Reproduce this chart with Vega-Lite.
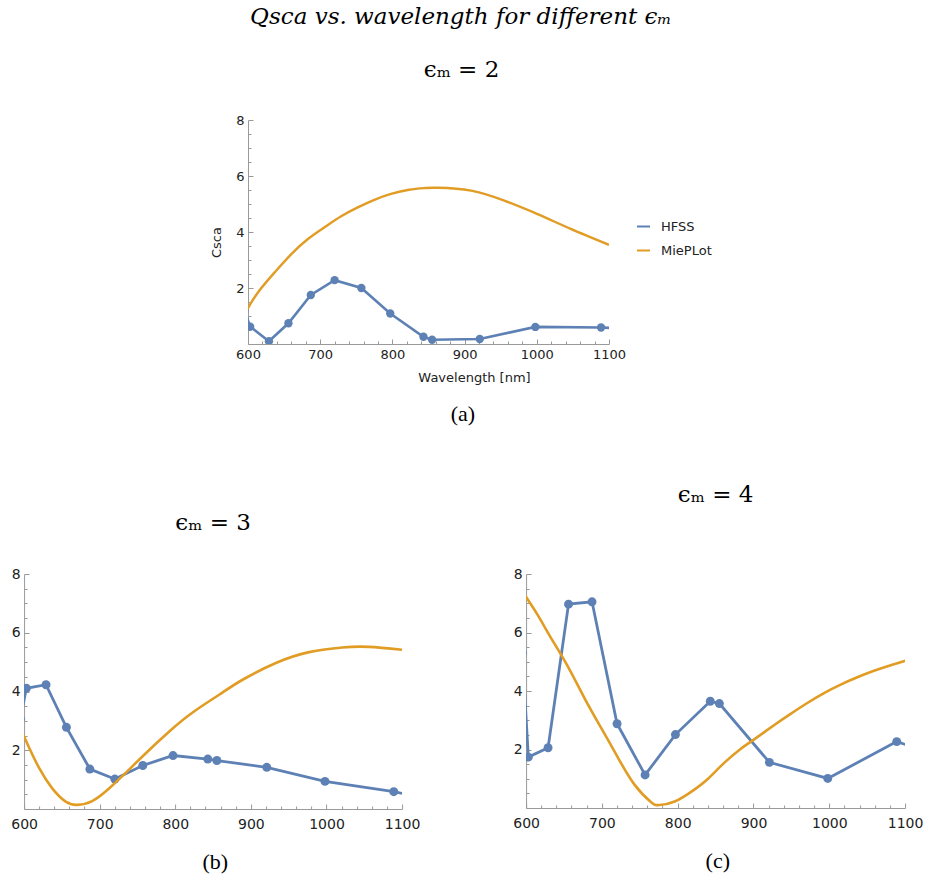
{
  "$schema": "https://vega.github.io/schema/vega-lite/v6.json",
  "padding": {"left": 10, "top": 6, "right": 2, "bottom": 3},
  "background": "white",
  "title": {"text": "Qsca vs. wavelength for different ϵₘ", "font": "DejaVu Serif", "fontStyle": "italic", "fontWeight": "normal", "fontSize": 23, "color": "black", "anchor": "middle", "offset": 30, "dx": -6},
  "config": {
    "view": {"stroke": null},
    "axis": {"grid": false, "domainColor": "#9a9a9a", "tickColor": "#9a9a9a", "labelColor": "#222222", "titleColor": "#222222", "labelFont": "DejaVu Sans", "titleFont": "DejaVu Sans", "titleFontWeight": "normal", "labelFlush": false, "labelOverlap": false, "format": "d"},
    "title": {"font": "DejaVu Serif", "fontWeight": "normal", "color": "black"},
    "legend": {"labelFont": "DejaVu Sans"}
  },
  "datasets": {
    "hfss2": [
      {"series": "HFSS", "wavelength": 595, "value": 1.21},
      {"series": "HFSS", "wavelength": 603, "value": 0.62},
      {"series": "HFSS", "wavelength": 629, "value": 0.10},
      {"series": "HFSS", "wavelength": 656, "value": 0.74},
      {"series": "HFSS", "wavelength": 687, "value": 1.75},
      {"series": "HFSS", "wavelength": 720, "value": 2.28},
      {"series": "HFSS", "wavelength": 757, "value": 2.00},
      {"series": "HFSS", "wavelength": 797, "value": 1.09},
      {"series": "HFSS", "wavelength": 843, "value": 0.26},
      {"series": "HFSS", "wavelength": 855, "value": 0.15},
      {"series": "HFSS", "wavelength": 921, "value": 0.18},
      {"series": "HFSS", "wavelength": 998, "value": 0.61},
      {"series": "HFSS", "wavelength": 1089, "value": 0.59},
      {"series": "HFSS", "wavelength": 1120, "value": 0.55}
    ],
    "mie2": [
      {"series": "MiePLot", "wavelength": 597, "value": 1.15},
      {"series": "MiePLot", "wavelength": 614, "value": 1.85},
      {"series": "MiePLot", "wavelength": 637, "value": 2.56},
      {"series": "MiePLot", "wavelength": 660, "value": 3.21},
      {"series": "MiePLot", "wavelength": 683, "value": 3.75},
      {"series": "MiePLot", "wavelength": 706, "value": 4.17},
      {"series": "MiePLot", "wavelength": 729, "value": 4.56},
      {"series": "MiePLot", "wavelength": 752, "value": 4.88},
      {"series": "MiePLot", "wavelength": 775, "value": 5.15},
      {"series": "MiePLot", "wavelength": 798, "value": 5.36},
      {"series": "MiePLot", "wavelength": 823, "value": 5.51},
      {"series": "MiePLot", "wavelength": 845, "value": 5.57},
      {"series": "MiePLot", "wavelength": 863, "value": 5.58},
      {"series": "MiePLot", "wavelength": 909, "value": 5.48},
      {"series": "MiePLot", "wavelength": 955, "value": 5.12},
      {"series": "MiePLot", "wavelength": 1001, "value": 4.64},
      {"series": "MiePLot", "wavelength": 1047, "value": 4.11},
      {"series": "MiePLot", "wavelength": 1100, "value": 3.54}
    ],
    "hfss3": [
      {"series": "HFSS", "wavelength": 595, "value": 3.06},
      {"series": "HFSS", "wavelength": 603, "value": 4.11},
      {"series": "HFSS", "wavelength": 629, "value": 4.23},
      {"series": "HFSS", "wavelength": 656, "value": 2.78},
      {"series": "HFSS", "wavelength": 687, "value": 1.36},
      {"series": "HFSS", "wavelength": 720, "value": 1.02},
      {"series": "HFSS", "wavelength": 757, "value": 1.48},
      {"series": "HFSS", "wavelength": 797, "value": 1.82},
      {"series": "HFSS", "wavelength": 843, "value": 1.70},
      {"series": "HFSS", "wavelength": 855, "value": 1.65},
      {"series": "HFSS", "wavelength": 921, "value": 1.42},
      {"series": "HFSS", "wavelength": 998, "value": 0.94},
      {"series": "HFSS", "wavelength": 1089, "value": 0.59},
      {"series": "HFSS", "wavelength": 1120, "value": 0.42}
    ],
    "mie3": [
      {"series": "MiePLot", "wavelength": 596, "value": 2.69},
      {"series": "MiePLot", "wavelength": 607, "value": 2.07},
      {"series": "MiePLot", "wavelength": 620, "value": 1.39},
      {"series": "MiePLot", "wavelength": 637, "value": 0.71},
      {"series": "MiePLot", "wavelength": 655, "value": 0.25},
      {"series": "MiePLot", "wavelength": 670, "value": 0.14},
      {"series": "MiePLot", "wavelength": 690, "value": 0.27},
      {"series": "MiePLot", "wavelength": 712, "value": 0.69},
      {"series": "MiePLot", "wavelength": 734, "value": 1.22},
      {"series": "MiePLot", "wavelength": 761, "value": 1.90},
      {"series": "MiePLot", "wavelength": 792, "value": 2.64},
      {"series": "MiePLot", "wavelength": 822, "value": 3.27},
      {"series": "MiePLot", "wavelength": 858, "value": 3.89},
      {"series": "MiePLot", "wavelength": 889, "value": 4.40},
      {"series": "MiePLot", "wavelength": 933, "value": 4.97},
      {"series": "MiePLot", "wavelength": 977, "value": 5.34},
      {"series": "MiePLot", "wavelength": 1021, "value": 5.50},
      {"series": "MiePLot", "wavelength": 1056, "value": 5.52},
      {"series": "MiePLot", "wavelength": 1100, "value": 5.42}
    ],
    "hfss4": [
      {"series": "HFSS", "wavelength": 595, "value": 5.30},
      {"series": "HFSS", "wavelength": 603, "value": 1.74},
      {"series": "HFSS", "wavelength": 629, "value": 2.06},
      {"series": "HFSS", "wavelength": 656, "value": 6.97},
      {"series": "HFSS", "wavelength": 687, "value": 7.05},
      {"series": "HFSS", "wavelength": 720, "value": 2.88},
      {"series": "HFSS", "wavelength": 757, "value": 1.13},
      {"series": "HFSS", "wavelength": 797, "value": 2.51},
      {"series": "HFSS", "wavelength": 843, "value": 3.65},
      {"series": "HFSS", "wavelength": 855, "value": 3.57},
      {"series": "HFSS", "wavelength": 921, "value": 1.56},
      {"series": "HFSS", "wavelength": 998, "value": 1.01},
      {"series": "HFSS", "wavelength": 1089, "value": 2.27},
      {"series": "HFSS", "wavelength": 1120, "value": 2.00}
    ],
    "mie4": [
      {"series": "MiePLot", "wavelength": 598, "value": 7.29},
      {"series": "MiePLot", "wavelength": 615, "value": 6.61},
      {"series": "MiePLot", "wavelength": 633, "value": 5.81},
      {"series": "MiePLot", "wavelength": 655, "value": 4.84},
      {"series": "MiePLot", "wavelength": 677, "value": 3.76},
      {"series": "MiePLot", "wavelength": 699, "value": 2.74},
      {"series": "MiePLot", "wavelength": 721, "value": 1.73},
      {"series": "MiePLot", "wavelength": 743, "value": 0.80},
      {"series": "MiePLot", "wavelength": 765, "value": 0.20},
      {"series": "MiePLot", "wavelength": 776, "value": 0.10},
      {"series": "MiePLot", "wavelength": 796, "value": 0.22},
      {"series": "MiePLot", "wavelength": 822, "value": 0.63},
      {"series": "MiePLot", "wavelength": 840, "value": 1.00},
      {"series": "MiePLot", "wavelength": 862, "value": 1.56},
      {"series": "MiePLot", "wavelength": 883, "value": 2.02},
      {"series": "MiePLot", "wavelength": 899, "value": 2.31},
      {"series": "MiePLot", "wavelength": 927, "value": 2.83},
      {"series": "MiePLot", "wavelength": 949, "value": 3.22},
      {"series": "MiePLot", "wavelength": 971, "value": 3.59},
      {"series": "MiePLot", "wavelength": 993, "value": 3.93},
      {"series": "MiePLot", "wavelength": 1015, "value": 4.22},
      {"series": "MiePLot", "wavelength": 1037, "value": 4.47},
      {"series": "MiePLot", "wavelength": 1059, "value": 4.69},
      {"series": "MiePLot", "wavelength": 1081, "value": 4.88},
      {"series": "MiePLot", "wavelength": 1101, "value": 5.04}
    ]
  },
  "center": true,
  "spacing": 59,
  "vconcat": [
    {
      "title": {"text": "(a)", "orient": "bottom", "font": "Liberation Serif", "fontSize": 22, "offset": 20, "anchor": "middle", "dx": 8},
      "vconcat": [
        {
          "width": 361,
          "height": 224,
          "title": {"text": "ϵₘ = 2", "fontSize": 23, "offset": 32, "anchor": "middle", "dx": 33},
          "resolve": {"axis": {"x": "independent", "y": "independent"}},
          "layer": [
            {
              "data": {"name": "hfss2"},
              "mark": {"type": "line", "strokeWidth": 2.6, "clip": true},
              "encoding": {
                "x": {"field": "wavelength", "type": "quantitative", "scale": {"domain": [600, 1100], "nice": false, "zero": false},
                      "axis": {"orient": "bottom", "values": [620, 640, 660, 680, 720, 740, 760, 780, 820, 840, 860, 880, 920, 940, 960, 980, 1020, 1040, 1060, 1080], "tickSize": -3, "labels": false, "domain": false, "title": null}},
                "y": {"field": "value", "type": "quantitative", "scale": {"domain": [0, 8], "nice": false},
                      "axis": {"orient": "left", "values": [0.5, 1, 1.5, 2.5, 3, 3.5, 4.5, 5, 5.5, 6.5, 7, 7.5], "tickSize": -3, "labels": false, "domain": false, "title": null}},
                "color": {"field": "series", "type": "nominal", "scale": {"domain": ["HFSS", "MiePLot"], "range": ["#5e81b5", "#e19c24"]},
                          "legend": {"title": null, "orient": "none", "legendX": 612, "legendY": 99, "symbolType": "stroke", "symbolSize": 169, "symbolStrokeWidth": 2, "labelFontSize": 13, "labelColor": "#222222", "labelOffset": 10, "rowPadding": 9}}
              }
            },
            {
              "data": {"name": "hfss2"},
              "mark": {"type": "point", "filled": true, "opacity": 1, "size": 70, "color": "#5e81b5", "clip": true},
              "encoding": {
                "x": {"field": "wavelength", "type": "quantitative", "axis": null},
                "y": {"field": "value", "type": "quantitative",
                      "axis": {"orient": "right", "domain": false, "ticks": false, "labels": false, "title": " ", "titleFontSize": 13, "titlePadding": 77}}
              }
            },
            {
              "data": {"name": "mie2"},
              "mark": {"type": "line", "strokeWidth": 2.4, "clip": true, "interpolate": "natural"},
              "encoding": {
                "x": {"field": "wavelength", "type": "quantitative",
                      "axis": {"orient": "bottom", "values": [600, 700, 800, 900, 1000, 1100], "tickSize": -5, "labelPadding": 9, "labelFontSize": 13, "title": "Wavelength [nm]", "titleFontSize": 13, "titlePadding": 10, "titleX": 226}},
                "y": {"field": "value", "type": "quantitative",
                      "axis": {"orient": "left", "values": [2, 4, 6, 8], "tickSize": -5, "labelPadding": 9, "labelFontSize": 13, "title": "Csca", "titleFontSize": 13, "titlePadding": 12, "titleY": 122}},
                "color": {"field": "series", "type": "nominal"}
              }
            }
          ]
        }
      ]
    },
    {
      "spacing": 92,
      "hconcat": [
        {
          "title": {"text": "(b)", "orient": "bottom", "font": "Liberation Serif", "fontSize": 22, "offset": 21, "anchor": "middle"},
          "vconcat": [
            {
              "width": 378,
              "height": 235,
              "title": {"text": "ϵₘ = 3", "fontSize": 23, "offset": 32, "anchor": "middle"},
              "resolve": {"axis": {"x": "independent", "y": "independent"}},
              "layer": [
                {
                  "data": {"name": "hfss3"},
                  "mark": {"type": "line", "strokeWidth": 2.8, "clip": true, "color": "#5e81b5"},
                  "encoding": {
                    "x": {"field": "wavelength", "type": "quantitative", "scale": {"domain": [600, 1100], "nice": false, "zero": false},
                          "axis": {"orient": "bottom", "values": [620, 640, 660, 680, 720, 740, 760, 780, 820, 840, 860, 880, 920, 940, 960, 980, 1020, 1040, 1060, 1080], "tickSize": -3, "labels": false, "domain": false, "title": null}},
                    "y": {"field": "value", "type": "quantitative", "scale": {"domain": [0, 8], "nice": false},
                          "axis": {"orient": "left", "values": [0.5, 1, 1.5, 2.5, 3, 3.5, 4.5, 5, 5.5, 6.5, 7, 7.5], "tickSize": -3, "labels": false, "domain": false, "title": null}}
                  }
                },
                {
                  "data": {"name": "hfss3"},
                  "mark": {"type": "point", "filled": true, "opacity": 1, "size": 80, "color": "#5e81b5", "clip": true},
                  "encoding": {
                    "x": {"field": "wavelength", "type": "quantitative", "axis": null},
                    "y": {"field": "value", "type": "quantitative", "axis": null}
                  }
                },
                {
                  "data": {"name": "mie3"},
                  "mark": {"type": "line", "strokeWidth": 2.6, "clip": true, "interpolate": "natural", "color": "#e19c24"},
                  "encoding": {
                    "x": {"field": "wavelength", "type": "quantitative",
                          "axis": {"orient": "bottom", "values": [600, 700, 800, 900, 1000, 1100], "tickSize": -5, "labelPadding": 13, "labelFontSize": 14, "title": null}},
                    "y": {"field": "value", "type": "quantitative",
                          "axis": {"orient": "left", "values": [2, 4, 6, 8], "tickSize": -5, "labelPadding": 9, "labelFontSize": 14, "title": null}}
                  }
                }
              ]
            }
          ]
        },
        {
          "title": {"text": "(c)", "orient": "bottom", "font": "Liberation Serif", "fontSize": 22, "offset": 21, "anchor": "middle"},
          "vconcat": [
            {
              "width": 379,
              "height": 234,
              "title": {"text": "ϵₘ = 4", "fontSize": 23, "offset": 60, "anchor": "middle"},
              "resolve": {"axis": {"x": "independent", "y": "independent"}},
              "layer": [
                {
                  "data": {"name": "hfss4"},
                  "mark": {"type": "line", "strokeWidth": 2.8, "clip": true, "color": "#5e81b5"},
                  "encoding": {
                    "x": {"field": "wavelength", "type": "quantitative", "scale": {"domain": [600, 1100], "nice": false, "zero": false},
                          "axis": {"orient": "bottom", "values": [620, 640, 660, 680, 720, 740, 760, 780, 820, 840, 860, 880, 920, 940, 960, 980, 1020, 1040, 1060, 1080], "tickSize": -3, "labels": false, "domain": false, "title": null}},
                    "y": {"field": "value", "type": "quantitative", "scale": {"domain": [0, 8], "nice": false},
                          "axis": {"orient": "left", "values": [0.5, 1, 1.5, 2.5, 3, 3.5, 4.5, 5, 5.5, 6.5, 7, 7.5], "tickSize": -3, "labels": false, "domain": false, "title": null}}
                  }
                },
                {
                  "data": {"name": "hfss4"},
                  "mark": {"type": "point", "filled": true, "opacity": 1, "size": 80, "color": "#5e81b5", "clip": true},
                  "encoding": {
                    "x": {"field": "wavelength", "type": "quantitative", "axis": null},
                    "y": {"field": "value", "type": "quantitative", "axis": null}
                  }
                },
                {
                  "data": {"name": "mie4"},
                  "mark": {"type": "line", "strokeWidth": 2.6, "clip": true, "interpolate": "natural", "color": "#e19c24"},
                  "encoding": {
                    "x": {"field": "wavelength", "type": "quantitative",
                          "axis": {"orient": "bottom", "values": [600, 700, 800, 900, 1000, 1100], "tickSize": -5, "labelPadding": 13, "labelFontSize": 14, "title": null}},
                    "y": {"field": "value", "type": "quantitative",
                          "axis": {"orient": "left", "values": [2, 4, 6, 8], "tickSize": -5, "labelPadding": 9, "labelFontSize": 14, "title": null}}
                  }
                }
              ]
            }
          ]
        }
      ]
    }
  ]
}
